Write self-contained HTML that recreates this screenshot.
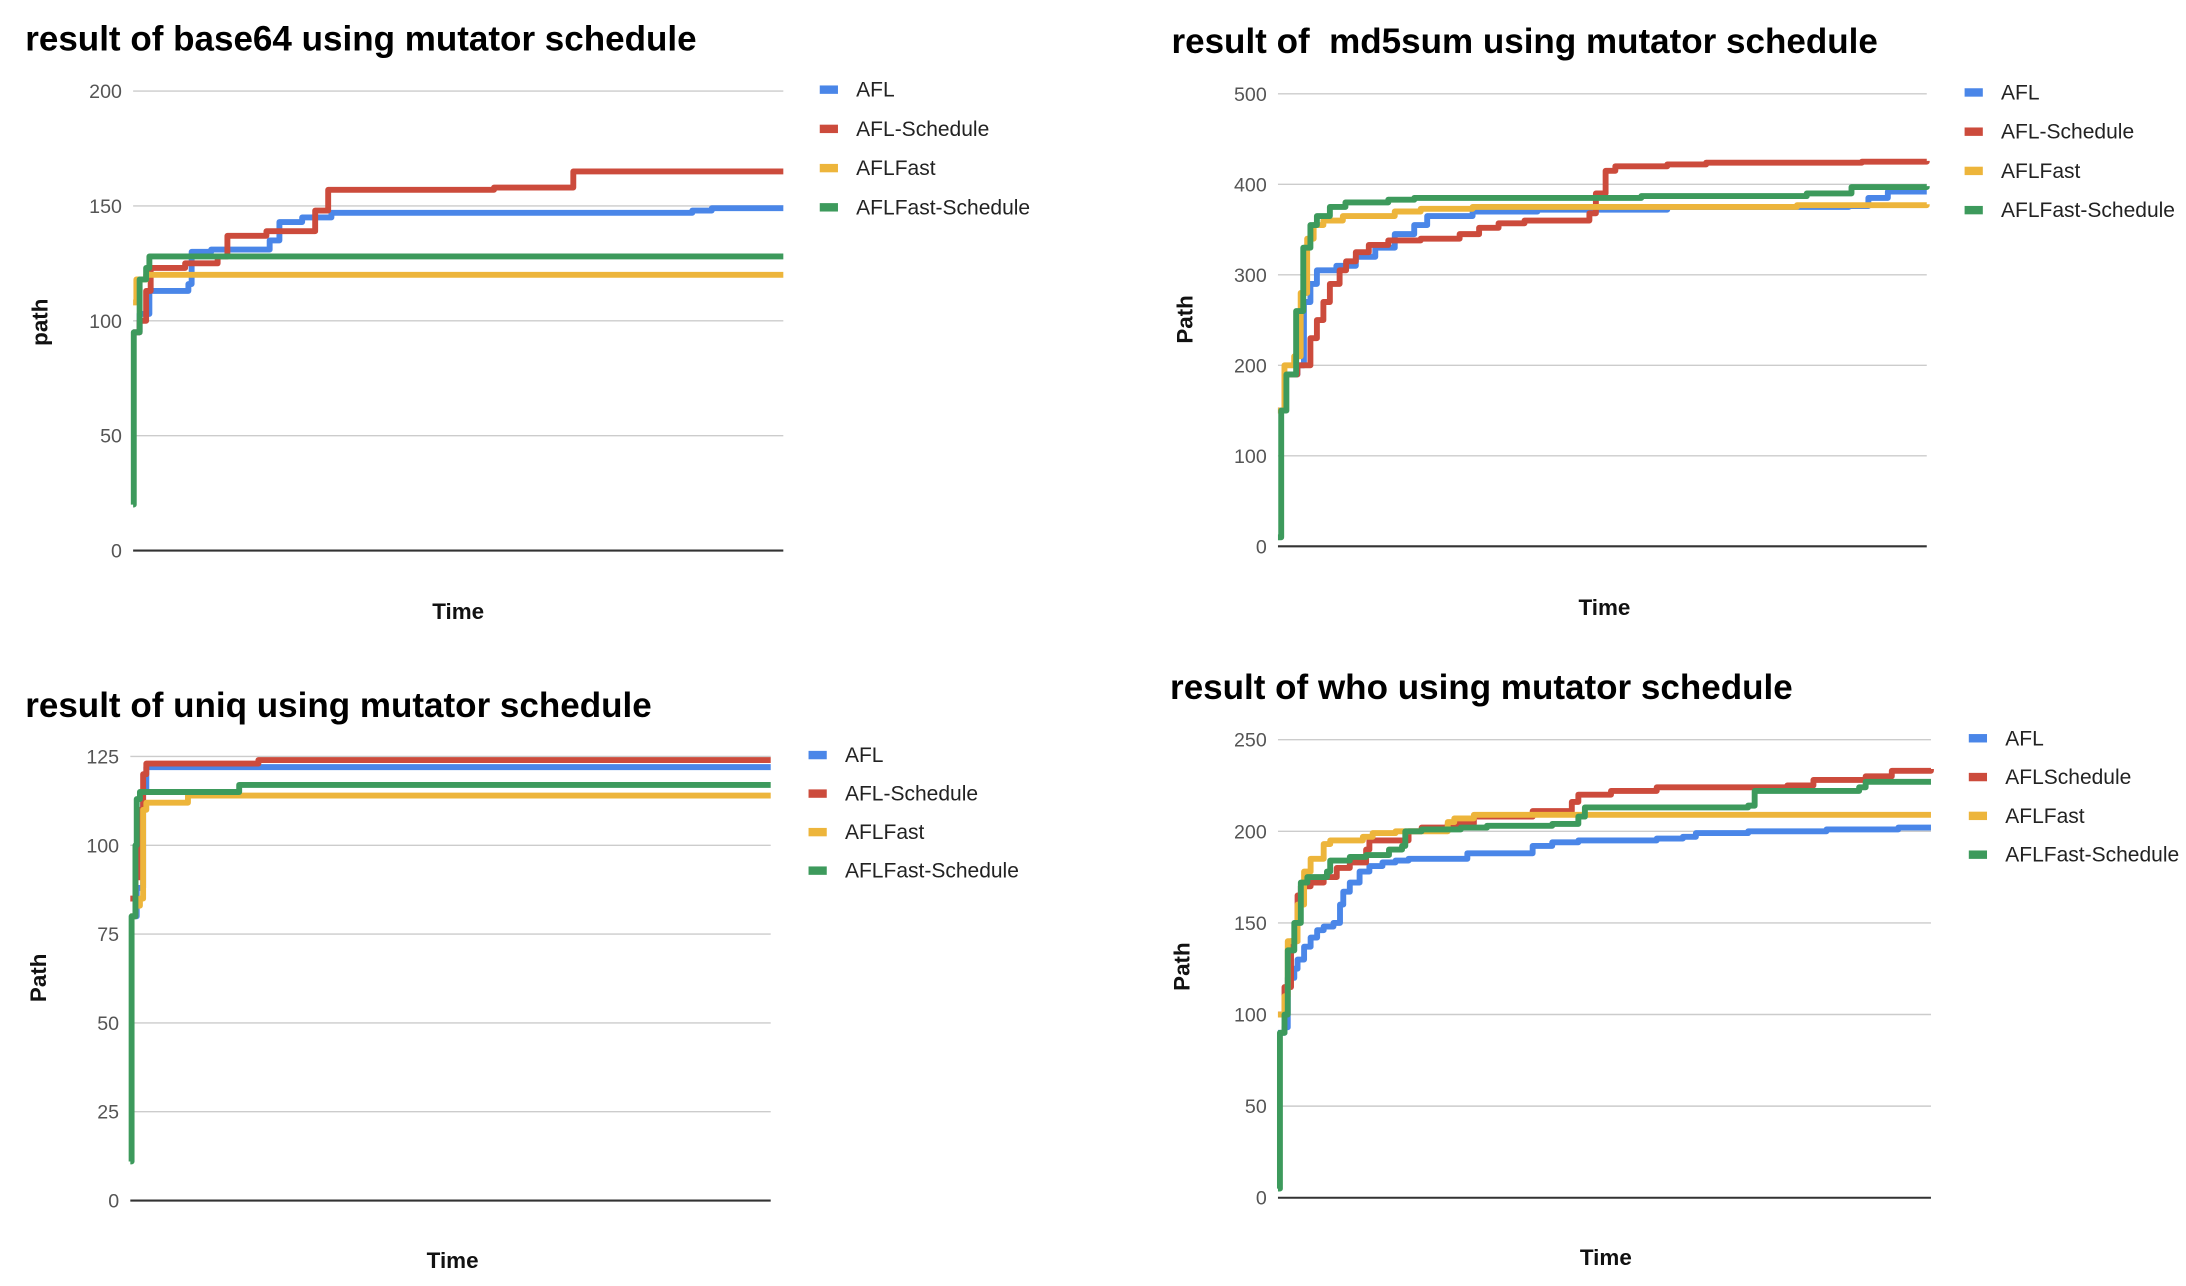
<!DOCTYPE html>
<html><head><meta charset="utf-8"><style>
html,body{margin:0;padding:0;background:#fff;}
svg{display:block;}
text{font-family:"Liberation Sans",Arial,sans-serif;white-space:pre;}
.title{font-weight:bold;font-size:25px;fill:#000;}
.tick{font-size:14px;fill:#555;}
.leg{font-size:15px;fill:#222;}
.axt{font-weight:bold;font-size:16px;fill:#111;}
</style></head><body>
<svg id="root" width="2186" height="1286" viewBox="0 0 1560 918" preserveAspectRatio="none" xmlns="http://www.w3.org/2000/svg" xml:space="preserve"></svg>
<script>
// ---------- data (time normalized 0..100) ----------
const seriesNames1 = ["AFL","AFL-Schedule","AFLFast","AFLFast-Schedule"];
const seriesNames4 = ["AFL","AFLSchedule","AFLFast","AFLFast-Schedule"];
const colors = ["#4a86e8","#cc4b3c","#edb53b","#3d9a5c"];

const b64Ticks = [0,50,100,150,200];
const b64AFL = [[0,95],[1,103],[2.5,113],[8.5,116],[9,130],[12,131],[21,135],[22.5,143],[26,145],[30.5,147],[86,148],[89,149],[100,149]];
const b64AFLS = [[0,95],[1,100],[2,113],[2.7,123],[8,125],[13,128],[14.5,137],[20.5,139],[28,148],[30,157],[55.5,158],[67.7,165],[100,165]];
const b64Fast = [[0,108],[0.5,118],[2,120],[100,120]];
const b64FastS = [[0,20],[0.1,95],[1,118],[2,123],[2.5,128],[100,128]];

const md5Ticks = [0,100,200,300,400,500];
const md5AFL = [[0,150],[1,190],[3,200],[4,270],[5,290],[6,305],[9,310],[12,320],[15,330],[18,345],[21,355],[23,365],[30,370],[40,372],[60,375],[88,376],[91,385],[94,392],[100,392]];
const md5AFLS = [[0,150],[1,190],[3,200],[5,230],[6,250],[7,270],[8,290],[9.5,305],[10.5,315],[12,325],[14,333],[17,338],[22,340],[28,345],[31,352],[34,357],[38,360],[48,368],[49,390],[50.5,415],[52,420],[60,422],[66,424],[90,425],[100,426]];
const md5Fast = [[0,150],[1,200],[2.5,210],[3.5,280],[4.5,340],[5.5,355],[7,360],[10,365],[18,370],[22,373],[30,375],[80,377],[100,378]];
const md5FastS = [[0,10],[0.5,150],[1.3,190],[2.8,260],[3.9,330],[5,355],[6,365],[8,375],[10.4,380],[17,383],[21,385],[56,387],[81.5,390],[88.4,397],[100,398]];

const uniqTicks = [0,25,50,75,100,125];
const uniqAFL = [[0,80],[1,88],[2,115],[2.5,122],[100,122]];
const uniqAFLS = [[0,85],[0.8,91],[1.5,110],[2,120],[2.5,123],[20,124],[100,124]];
const uniqFast = [[0,80],[0.8,83],[1.5,85],[2,110],[2.5,112],[8,112],[9,114],[100,114]];
const uniqFastS = [[0,11],[0.2,80],[0.8,100],[1,113],[1.5,115],[16,115],[17,117],[100,117]];

const whoTicks = [0,50,100,150,200,250];
const whoAFL = [[0,90],[1,93],[1.5,120],[2.5,125],[3,130],[4,137],[5,142],[6,146],[7,148],[8.5,150],[9.5,160],[10,167],[11,172],[12.5,178],[14,181],[16,183],[18,184],[20,185],[29,188],[39,192],[42,194],[46,195],[58,196],[62,197],[64,199],[72,200],[84,201],[95,202],[100,202]];
const whoAFLS = [[0,100],[1,115],[2,140],[3,165],[3.5,170],[5,172],[7,175],[9,180],[11,183],[13.5,190],[14,195],[20,200],[22,202],[26,204],[30,208],[39,211],[45,216],[46,220],[51,222],[58,224],[78,225],[82,228],[90,230],[94,233],[100,234]];
const whoFast = [[0,100],[1,110],[1.5,140],[3,160],[4,178],[5,185],[7,193],[8,195],[13,197],[14.5,199],[18,200],[26,205],[27,207],[30,209],[100,209]];
const whoFastS = [[0,5],[0.3,90],[1,100],[1.5,135],[2.5,150],[3.5,172],[4.5,175],[7.5,178],[8,184],[11,186],[13.5,187],[17,190],[19,192],[19.5,200],[22,201],[28,202],[32,203],[42,204],[46,208],[47,213],[72,214],[73,222],[89,224],[90,227],[100,227]];

const NS = "http://www.w3.org/2000/svg";
const root = document.getElementById('root');
function mk(tag, attrs, parent){ const e=document.createElementNS(NS,tag); for(const k in attrs) e.setAttribute(k,attrs[k]); parent.appendChild(e); return e; }

function chart(cfg){
  const g = mk('g',{},root);
  
  
  const xs = v => cfg.x0 + (cfg.x1-cfg.x0)*v/100;
  const ys = v => cfg.y0 - (cfg.y0-cfg.yTop)*v/cfg.max;
  const t = mk('text',{x:cfg.tx,y:cfg.ty,class:'title'},g); t.textContent = cfg.title;
  
  
  cfg.ticks.forEach(v=>{
    const y = ys(v);
    const ln = mk('line',{x1:cfg.x0,x2:cfg.x1,y1:y,y2:y,stroke:v===0?'#333':'#ccc','stroke-width':v===0?1.5:1},g);
    
    
    const tl = mk('text',{x:cfg.x0-8,y:y+5,'text-anchor':'end',class:'tick'},g); tl.textContent = v;
    
    
  });
  cfg.series.forEach((pts,i)=>{
    let d = 'M'+xs(pts[0][0])+','+ys(pts[0][1]);
    for(let k=1;k<pts.length;k++){ d += ' H'+xs(pts[k][0])+' V'+ys(pts[k][1]); }
    const p = mk('path',{d:d,fill:'none',stroke:colors[i],'stroke-width':4.2,'stroke-linejoin':'round'},g);
    
    
  });
  cfg.names.forEach((n,i)=>{
    const y = cfg.ly + i*cfg.lgap;
    const r = mk('rect',{x:cfg.lx,y:y-3,width:13,height:6,fill:colors[i]},g);
    
    
    const lt = mk('text',{x:cfg.lx+26,y:y+5,class:'leg'},g); lt.textContent = n;
    
    
  });
  const yl = mk('text',{x:0,y:0,class:'axt','text-anchor':'middle',transform:'translate('+(cfg.ylx)+','+cfg.yly+') rotate(-90)'},g);
  yl.textContent = cfg.ylabel;
  
  
  const xl = mk('text',{x:cfg.xlx,y:cfg.xly,class:'axt','text-anchor':'middle'},g);
  xl.textContent = 'Time';
  
  
}

chart({id:'base64-chart',title:'result of base64 using mutator schedule',tx:18,ty:36,x0:95,x1:559,y0:393,yTop:65,max:200,ticks:b64Ticks,
  series:[b64AFL,b64AFLS,b64Fast,b64FastS],names:seriesNames1,lx:585,ly:64,lgap:28,ylabel:'path',ylx:34,yly:230,xlx:327,xly:442});
chart({id:'md5sum-chart',title:'result of  md5sum using mutator schedule',tx:836,ty:38,x0:912,x1:1375,y0:390,yTop:67,max:500,ticks:md5Ticks,
  series:[md5AFL,md5AFLS,md5Fast,md5FastS],names:seriesNames1,lx:1402,ly:66,lgap:28,ylabel:'Path',ylx:851,yly:228,xlx:1145,xly:439});
chart({id:'uniq-chart',title:'result of uniq using mutator schedule',tx:18,ty:512,x0:93,x1:550,y0:857,yTop:540,max:125,ticks:uniqTicks,
  series:[uniqAFL,uniqAFLS,uniqFast,uniqFastS],names:seriesNames1,lx:577,ly:539,lgap:27.5,ylabel:'Path',ylx:33,yly:698,xlx:323,xly:905});
chart({id:'who-chart',title:'result of who using mutator schedule',tx:835,ty:499,x0:912,x1:1378,y0:855,yTop:528,max:250,ticks:whoTicks,
  series:[whoAFL,whoAFLS,whoFast,whoFastS],names:seriesNames4,lx:1405,ly:527,lgap:27.7,ylabel:'Path',ylx:849,yly:690,xlx:1146,xly:903});
</script>
</body></html>
